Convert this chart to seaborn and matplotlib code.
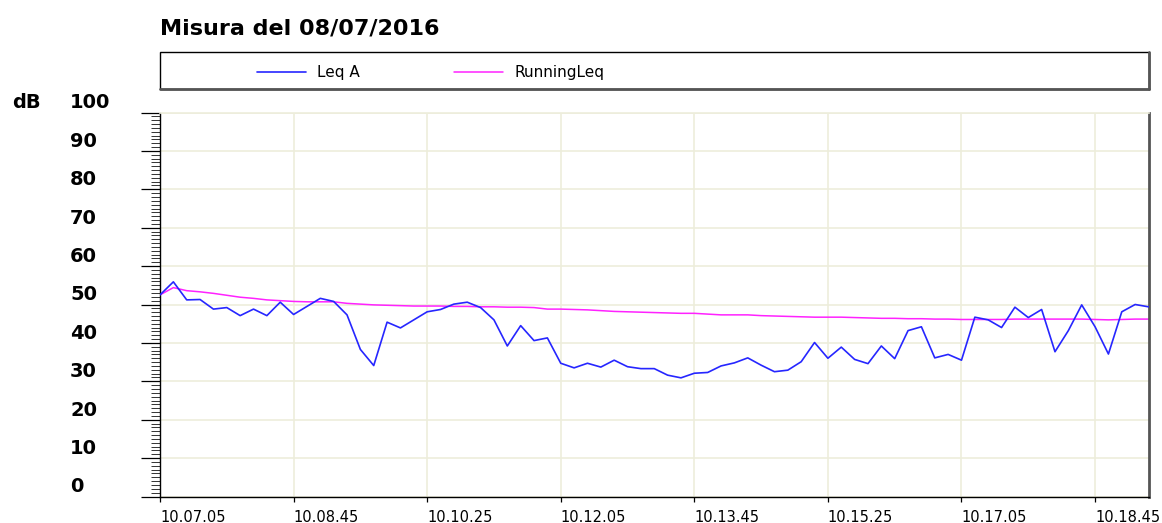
import numpy as np
import pandas as pd
import matplotlib
matplotlib.use("Agg")
import matplotlib.pyplot as plt
from matplotlib.patches import Rectangle
from matplotlib.lines import Line2D
from matplotlib.ticker import MultipleLocator
import seaborn as sns

# one sample every 10 s, starting 10.07.05
sec = np.arange(0, 750, 10)

leq_a = [52.5, 55.9, 51.2, 51.3, 48.8, 49.2, 47.1, 48.8, 47.1, 50.6,
         47.4, 49.5, 51.6, 50.8, 47.3, 38.3, 34.1, 45.4, 43.9, 46.0,
         48.1, 48.7, 50.1, 50.6, 49.2, 46.0, 39.2, 44.5, 40.6, 41.3,
         34.7, 33.5, 34.7, 33.7, 35.5, 33.8, 33.3, 33.3, 31.6, 30.9,
         32.1, 32.3, 34.0, 34.8, 36.1, 34.2, 32.5, 32.9, 35.1, 40.1,
         36.0, 38.9, 35.7, 34.6, 39.2, 35.9, 43.2, 44.2, 36.1, 37.0,
         35.5, 46.7, 46.0, 44.0, 49.3, 46.6, 48.7, 37.7, 43.2, 49.9,
         44.2, 37.1, 48.1, 50.0, 49.4]

running_leq = [52.5, 54.4, 53.6, 53.3, 52.9, 52.4, 51.9, 51.6, 51.2, 51.0,
               50.8, 50.7, 50.7, 50.7, 50.3, 50.1, 49.9, 49.8, 49.7, 49.6,
               49.6, 49.6, 49.5, 49.5, 49.4, 49.4, 49.3, 49.3, 49.2, 48.8,
               48.8, 48.7, 48.6, 48.4, 48.2, 48.1, 48.0, 47.9, 47.8, 47.7,
               47.7, 47.5, 47.3, 47.3, 47.3, 47.1, 47.0, 46.9, 46.8, 46.7,
               46.7, 46.7, 46.6, 46.5, 46.4, 46.4, 46.3, 46.3, 46.2, 46.2,
               46.1, 46.1, 46.1, 46.1, 46.2, 46.2, 46.2, 46.2, 46.2, 46.2,
               46.1, 46.0, 46.1, 46.2, 46.2]

tick_sec = [0, 100, 200, 300, 400, 500, 600, 700]
tick_labels = ["10.07.05", "10.08.45", "10.10.25", "10.12.05",
               "10.13.45", "10.15.25", "10.17.05", "10.18.45"]

sns.set_style("white")
plt.rcParams['font.family'] = ['DejaVu Sans']
plt.rcParams['text.color'] = 'black'
plt.rcParams['xtick.color'] = 'black'
plt.rcParams['ytick.color'] = 'black'

W, H = 1162, 523
fig = plt.figure(figsize=(W / 100, H / 100), dpi=100)
ax = fig.add_axes([160 / W, 1 - 496.5 / H, (1148.5 - 160) / W, (496.5 - 112.5) / H])

df = pd.DataFrame({'sec': sec, 'Leq A': leq_a, 'RunningLeq': running_leq})
sns.lineplot(data=df, x='sec', y='Leq A', ax=ax, color='#2626ff', lw=1.2,
             label='Leq A', zorder=3)
sns.lineplot(data=df, x='sec', y='RunningLeq', ax=ax, color='#ff22ff', lw=1.1,
             label='RunningLeq', zorder=2)
handles, labels = ax.get_legend_handles_labels()
ax.get_legend().remove()

ax.set_xlim(0, 740)
ax.set_ylim(0, 100)
ax.set_xlabel('')
ax.set_ylabel('')

ax.grid(True, color='#ededdc', lw=1.2, zorder=0)

# y axis: majors every 10, minors every 1, labels left aligned and raised
ax.yaxis.set_major_locator(MultipleLocator(10))
ax.yaxis.set_minor_locator(MultipleLocator(1))
ax.tick_params(axis='y', which='major', direction='out', length=13.7, width=0.9,
               color='black', pad=51, labelsize=14, left=True)
ax.tick_params(axis='y', which='minor', direction='out', length=6.5, width=0.7,
               color='#333333', left=True)
for lab in ax.get_yticklabels():
    lab.set_ha('left')
    lab.set_va('bottom')
    lab.set_fontweight('bold')

ax.set_xticks(tick_sec)
ax.set_xticklabels(tick_labels, ha='left')
ax.tick_params(axis='x', which='major', direction='out', length=3.6, width=0.9,
               color='black', pad=6, labelsize=10.5, bottom=True)

for s in ['left', 'bottom']:
    ax.spines[s].set_color('black')
    ax.spines[s].set_linewidth(1)
ax.spines['top'].set_color('#ededdc')
ax.spines['top'].set_linewidth(1.2)
ax.spines['right'].set_color('#555555')
ax.spines['right'].set_linewidth(2)

fig.text(12 / W, 1 - 103 / H, 'dB', fontsize=14, fontweight='bold',
         ha='left', va='center')
fig.text(160 / W, 1 - 28 / H, 'Misura del 08/07/2016', fontsize=16,
         fontweight='bold', ha='left', va='center')

# legend box
x0, x1 = 160 / W, 1149 / W
y0, y1 = 1 - 89 / H, 1 - 52 / H
fig.add_artist(Rectangle((x0, y0), x1 - x0, y1 - y0, transform=fig.transFigure,
                         fill=False, edgecolor='black', lw=1))
fig.add_artist(Line2D([x1, x1], [y0, y1], transform=fig.transFigure,
                      color='#555555', lw=2))
fig.add_artist(Line2D([x0, x1], [y0, y0], transform=fig.transFigure,
                      color='#555555', lw=2))
fig.legend(handles, labels, loc='center left', bbox_to_anchor=(257 / W, 1 - 73 / H),
           ncol=2, frameon=False, fontsize=11, handlelength=3.2,
           handletextpad=0.72, columnspacing=6.2, borderpad=0, borderaxespad=0)

fig.savefig('out.png', dpi=100)
